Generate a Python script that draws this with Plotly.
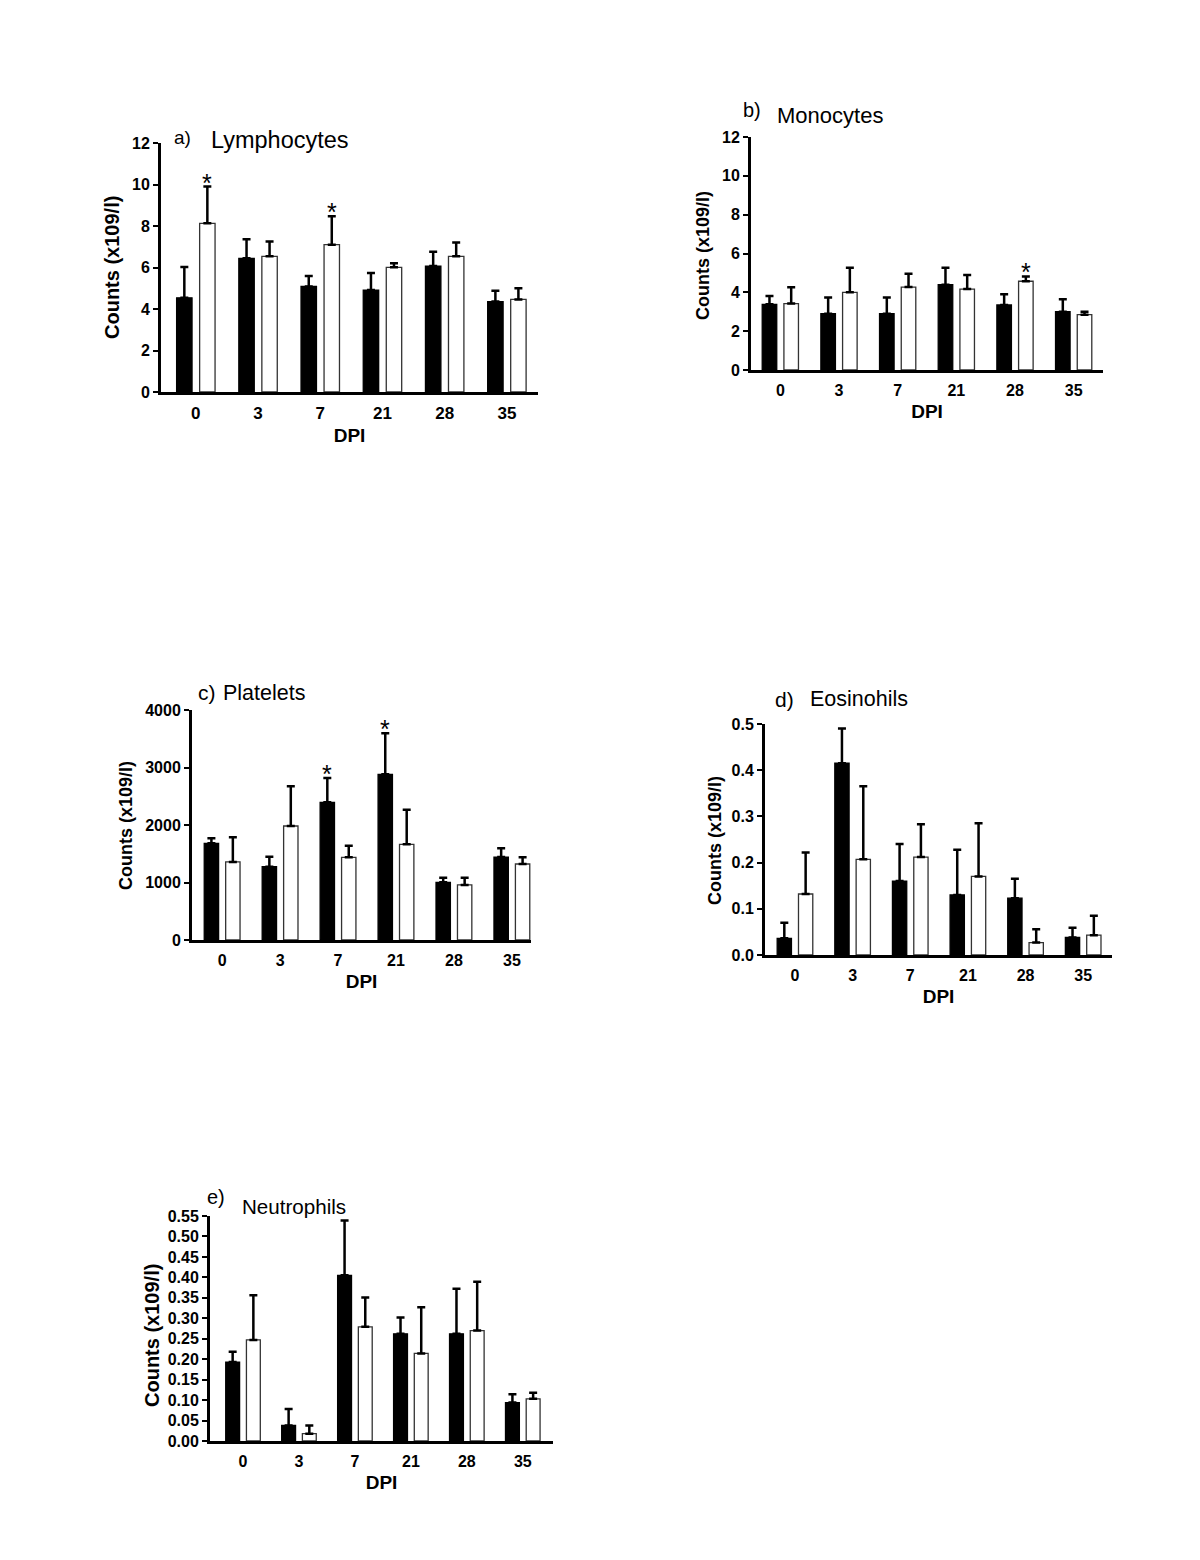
import plotly.graph_objects as go

dpi_labels = ["0", "3", "7", "21", "28", "35"]

# a) Lymphocytes
lym_black = [4.54, 6.44, 5.09, 4.91, 6.07, 4.36]
lym_black_sem = [1.48, 0.92, 0.50, 0.82, 0.69, 0.52]
lym_white = [8.13, 6.54, 7.10, 6.01, 6.54, 4.46]
lym_white_sem = [1.77, 0.71, 1.37, 0.19, 0.66, 0.54]
lym_star_white = [0, 2]
lym_star_black = []

# b) Monocytes
mono_black = [3.38, 2.90, 2.90, 4.39, 3.35, 3.00]
mono_black_sem = [0.43, 0.83, 0.83, 0.88, 0.55, 0.64]
mono_white = [3.42, 4.00, 4.27, 4.17, 4.57, 2.85]
mono_white_sem = [0.84, 1.27, 0.69, 0.72, 0.25, 0.15]
mono_star_white = [4]
mono_star_black = []

# c) Platelets
plt_black = [1682, 1275, 2394, 2881, 1003, 1443]
plt_black_sem = [87, 174, 423, 713, 81, 151]
plt_white = [1357, 1983, 1438, 1664, 957, 1322]
plt_white_sem = [429, 689, 203, 603, 127, 116]
plt_star_white = []
plt_star_black = [2, 3]

# d) Eosinophils
eos_black = [0.036, 0.415, 0.160, 0.130, 0.123, 0.038]
eos_black_sem = [0.034, 0.075, 0.080, 0.098, 0.042, 0.021]
eos_white = [0.132, 0.207, 0.212, 0.170, 0.027, 0.043]
eos_white_sem = [0.090, 0.158, 0.071, 0.115, 0.029, 0.042]

# e) Neutrophils
neu_black = [0.193, 0.038, 0.405, 0.262, 0.262, 0.094]
neu_black_sem = [0.025, 0.040, 0.134, 0.040, 0.110, 0.020]
neu_white = [0.247, 0.018, 0.279, 0.214, 0.270, 0.103]
neu_white_sem = [0.109, 0.020, 0.072, 0.113, 0.119, 0.015]

PAGE_OFF = 8  # default body margin of the html page
W, H = 1200 - PAGE_OFF, 1560 - PAGE_OFF
FONT = "Arial, Liberation Sans, sans-serif"
BARGAP = 0.26
BARGROUPGAP = 0.33
OFF = (1 - BARGAP) / 4.0


def fx(px):
    return (px - PAGE_OFF) / W


def fy(py):
    return 1 - (py - PAGE_OFF) / H


panels = [
    dict(letter="a)", name="Lymphocytes", black=lym_black, bsem=lym_black_sem,
         white=lym_white, wsem=lym_white_sem, sb=lym_star_black, sw=lym_star_white,
         px=(161, 538), py=(143, 392), xr=[-0.56, 5.5], yr=[0, 12], dtick=2, fmt="d",
         ytitle=(112, 268), letter_pos=(172, 137, 19), name_pos=(209, 140, 23.5), yt_size=20, tick=17),
    dict(letter="b)", name="Monocytes", black=mono_black, bsem=mono_black_sem,
         white=mono_white, wsem=mono_white_sem, sb=mono_star_black, sw=mono_star_white,
         px=(751, 1103), py=(137, 370), xr=[-0.5, 5.5], yr=[0, 12], dtick=2, fmt="d",
         ytitle=(703, 256), letter_pos=(741, 110, 20), name_pos=(775, 116, 22), yt_size=18, tick=16),
    dict(letter="c)", name="Platelets", black=plt_black, bsem=plt_black_sem,
         white=plt_white, wsem=plt_white_sem, sb=plt_star_black, sw=plt_star_white,
         px=(192, 531), py=(710, 940), xr=[-0.52, 5.33], yr=[0, 4000], dtick=1000, fmt="d",
         ytitle=(126, 826), letter_pos=(196, 692, 21), name_pos=(221, 693, 21.5), yt_size=18, tick=16),
    dict(letter="d)", name="Eosinohils", black=eos_black, bsem=eos_black_sem,
         white=eos_white, wsem=eos_white_sem, sb=[], sw=[],
         px=(765, 1112), py=(724, 955), xr=[-0.52, 5.5], yr=[0, 0.5], dtick=0.1, fmt=".1f",
         ytitle=(715, 841), letter_pos=(773, 699, 21), name_pos=(808, 699, 21.5), yt_size=18, tick=16),
    dict(letter="e)", name="Neutrophils", black=neu_black, bsem=neu_black_sem,
         white=neu_white, wsem=neu_white_sem, sb=[], sw=[],
         px=(210, 553), py=(1216, 1441), xr=[-0.59, 5.54], yr=[0, 0.55], dtick=0.05, fmt=".2f",
         ytitle=(152, 1336), letter_pos=(205, 1197, 20), name_pos=(240, 1206, 20.6), yt_size=20, tick=16),
]

fig = go.Figure()
annotations = []
xs = list(range(len(dpi_labels)))

for k, p in enumerate(panels):
    sfx = "" if k == 0 else str(k + 1)
    xa, ya = "x" + sfx, "y" + sfx
    for vals, sem, fill, lc, og in [(p["black"], p["bsem"], "black", "black", "b"),
                                     (p["white"], p["wsem"], "white", "#333333", "w")]:
        fig.add_trace(go.Bar(
            x=xs, y=vals, xaxis=xa, yaxis=ya, offsetgroup=og,
            marker=dict(color=fill, line=dict(color=lc, width=1.3)),
            error_y=dict(type="data", array=sem, arrayminus=[0] * len(sem), symmetric=False,
                         color="black", thickness=2.5, width=4),
            showlegend=False, hoverinfo="skip",
        ))
    dom_x = [fx(p["px"][0]), fx(p["px"][1])]
    dom_y = [fy(p["py"][1]), fy(p["py"][0])]
    fig.layout["xaxis" + sfx] = dict(
        domain=dom_x, anchor=ya, range=p["xr"], tickmode="array", tickvals=xs,
        ticktext=dpi_labels, showline=True, linewidth=3, linecolor="black",
        ticks="outside", ticklen=4, tickcolor="rgba(0,0,0,0)", showgrid=False, zeroline=False,
        tickfont=dict(family=FONT, size=p["tick"], color="black", weight="bold"),
        title=dict(text="<b>DPI</b>", font=dict(family=FONT, size=19, color="black"), standoff=7),
        automargin=False, fixedrange=True,
    )
    fig.layout["yaxis" + sfx] = dict(
        domain=dom_y, anchor=xa, range=p["yr"], dtick=p["dtick"], tick0=0,
        tickformat=p["fmt"], showline=True, linewidth=3, linecolor="black",
        ticks="outside", ticklen=5, tickwidth=2, tickcolor="black",
        showgrid=False, zeroline=False,
        tickfont=dict(family=FONT, size=16, color="black", weight="bold"),
        automargin=False, fixedrange=True,
    )
    # y-axis title
    tx, ty = p["ytitle"]
    annotations.append(dict(
        text="<b>Counts (x109/l)</b>", xref="paper", yref="paper",
        x=fx(tx), y=fy(ty),
        xanchor="center", yanchor="middle", textangle=-90, showarrow=False,
        font=dict(family=FONT, size=p["yt_size"], color="black"),
    ))
    # panel labels
    lx, lyp, ls = p["letter_pos"]
    annotations.append(dict(text=p["letter"], xref="paper", yref="paper", x=fx(lx), y=fy(lyp),
                            xanchor="left", yanchor="middle", showarrow=False,
                            font=dict(family=FONT, size=ls, color="black")))
    nx, nyp, ns = p["name_pos"]
    annotations.append(dict(text=p["name"], xref="paper", yref="paper", x=fx(nx), y=fy(nyp),
                            xanchor="left", yanchor="middle", showarrow=False,
                            font=dict(family=FONT, size=ns, color="black")))
    # significance stars
    for idx_list, vals, sem, sign in [(p["sb"], p["black"], p["bsem"], -1),
                                      (p["sw"], p["white"], p["wsem"], 1)]:
        for i in idx_list:
            annotations.append(dict(text="*", xref=xa, yref=ya, x=i + sign * OFF,
                                    y=vals[i] + sem[i], xanchor="center", yanchor="bottom",
                                    yshift=-12, showarrow=False,
                                    font=dict(family=FONT, size=25, color="black")))

fig.update_layout(
    template="none",
    width=W, height=H, margin=dict(l=0, r=0, t=0, b=0, autoexpand=False),
    paper_bgcolor="white", plot_bgcolor="white",
    barmode="group", bargap=BARGAP, bargroupgap=BARGROUPGAP,
    annotations=annotations, font=dict(family=FONT, color="black"),
)

fig.write_html("out.html")
